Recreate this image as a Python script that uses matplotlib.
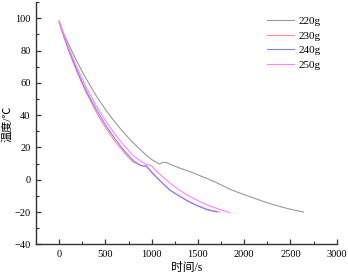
import matplotlib
matplotlib.use("Agg")
import matplotlib.pyplot as plt
from matplotlib.ticker import MultipleLocator

plt.rcParams['font.family'] = ['Liberation Serif', 'Noto Sans CJK SC', 'DejaVu Sans']

labels = ["220g", "230g", "240g", "250g"]
colors = ["#9a9a9a", "#ff8c8c", "#8080ff", "#ff80ff"]

t_220 = [0, 50, 100, 173, 250, 300, 400, 497, 600, 700, 800, 900, 1000, 1085, 1110, 1130, 1160,
         1200, 1300, 1415, 1523, 1600, 1700, 1847, 1950, 2063, 2200, 2300, 2400, 2500, 2640]
T_220 = [97.5, 90.5, 84.3, 75.5, 67, 61.8, 52.1, 43.8, 35.9, 29.1, 22.9, 17.4, 12.5, 9.7, 10.6, 10.9, 10.6,
         9.6, 7.3, 5.0, 2.5, 0.7, -1.8, -5.9, -8.2, -10.5, -13.3, -15.1, -16.8, -18.3, -20]

t_230 = [0, 50, 100, 150, 200, 250, 300, 389, 450, 500, 600, 700, 800, 875, 900, 940,
         1000, 1100, 1200, 1300, 1400, 1500, 1600, 1680, 1739]
T_230 = [97.5, 88.7, 80.5, 72.9, 65.8, 59.2, 53.1, 43.2, 37.0, 32.4, 24.1, 16.9, 10.9, 9.1, 8.5, 8.3,
         4.4, -1.3, -6.5, -10.0, -13.3, -16.0, -18.3, -19.3, -20]

t_240 = [0, 50, 100, 150, 200, 250, 300, 400, 500, 600, 700, 800, 875, 910, 946,
         1000, 1100, 1200, 1300, 1400, 1500, 1600, 1702]
T_240 = [98.5, 89, 81, 73.8, 66.8, 60.3, 54.3, 43.7, 34, 25.7, 18.3, 12, 9.1, 8.6, 8.5,
         4.8, -1.2, -6.6, -10.2, -13.6, -16.3, -18.6, -20]

t_250 = [0, 50, 100, 150, 200, 300, 400, 500, 600, 700, 800, 875, 930, 964, 1001,
         1100, 1200, 1300, 1400, 1523, 1600, 1700, 1800, 1847]
T_250 = [98, 89.9, 82.3, 75.2, 68.6, 56.5, 45.9, 36.6, 28.4, 21.3, 15.0, 11.8, 9.8, 9.1, 8.5,
         2.7, -2.2, -6.4, -10.0, -13.6, -15.6, -17.7, -19.6, -20.4]

series_t = [t_220, t_230, t_240, t_250]
series_T = [T_220, T_230, T_240, T_250]

fig = plt.figure(figsize=(3.48, 2.74), dpi=100)
ax = fig.add_axes([36/348, 1 - 244.3/274, 300.7/348, (244.3 - 2.2)/274])

for t, T, c, lab in zip(series_t, series_T, colors, labels):
    ax.plot(t, T, color=c, lw=0.8, label=lab)

ax.set_xlim(-250, 3000)
ax.set_ylim(-40, 110)
ax.set_xticks([0, 500, 1000, 1500, 2000, 2500, 3000])
ax.set_yticks([-40, -20, 0, 20, 40, 60, 80, 100])
ax.xaxis.set_minor_locator(MultipleLocator(250))
ax.yaxis.set_minor_locator(MultipleLocator(10))
ax.spines['top'].set_visible(False)
ax.spines['right'].set_visible(False)
for s in ('left', 'bottom'):
    ax.spines[s].set_color('#333333')
    ax.spines[s].set_linewidth(1.0)
ax.tick_params(which='major', direction='in', length=3.5, width=0.9, labelsize=7.5,
               colors='#333333', labelcolor='black', pad=4)
ax.tick_params(which='minor', direction='in', length=2, width=0.8, colors='#333333')

ax.set_xlabel("时间/s", fontsize=8.5, labelpad=2)
ax.set_ylabel("温度/℃", fontsize=8, labelpad=1)

ax.legend(loc='upper left', bbox_to_anchor=(257/348, 1 - 6/274), bbox_transform=fig.transFigure,
          frameon=False, fontsize=8, handlelength=2.4, labelspacing=0.45, handletextpad=0.4)

fig.savefig("out.png", dpi=100)
